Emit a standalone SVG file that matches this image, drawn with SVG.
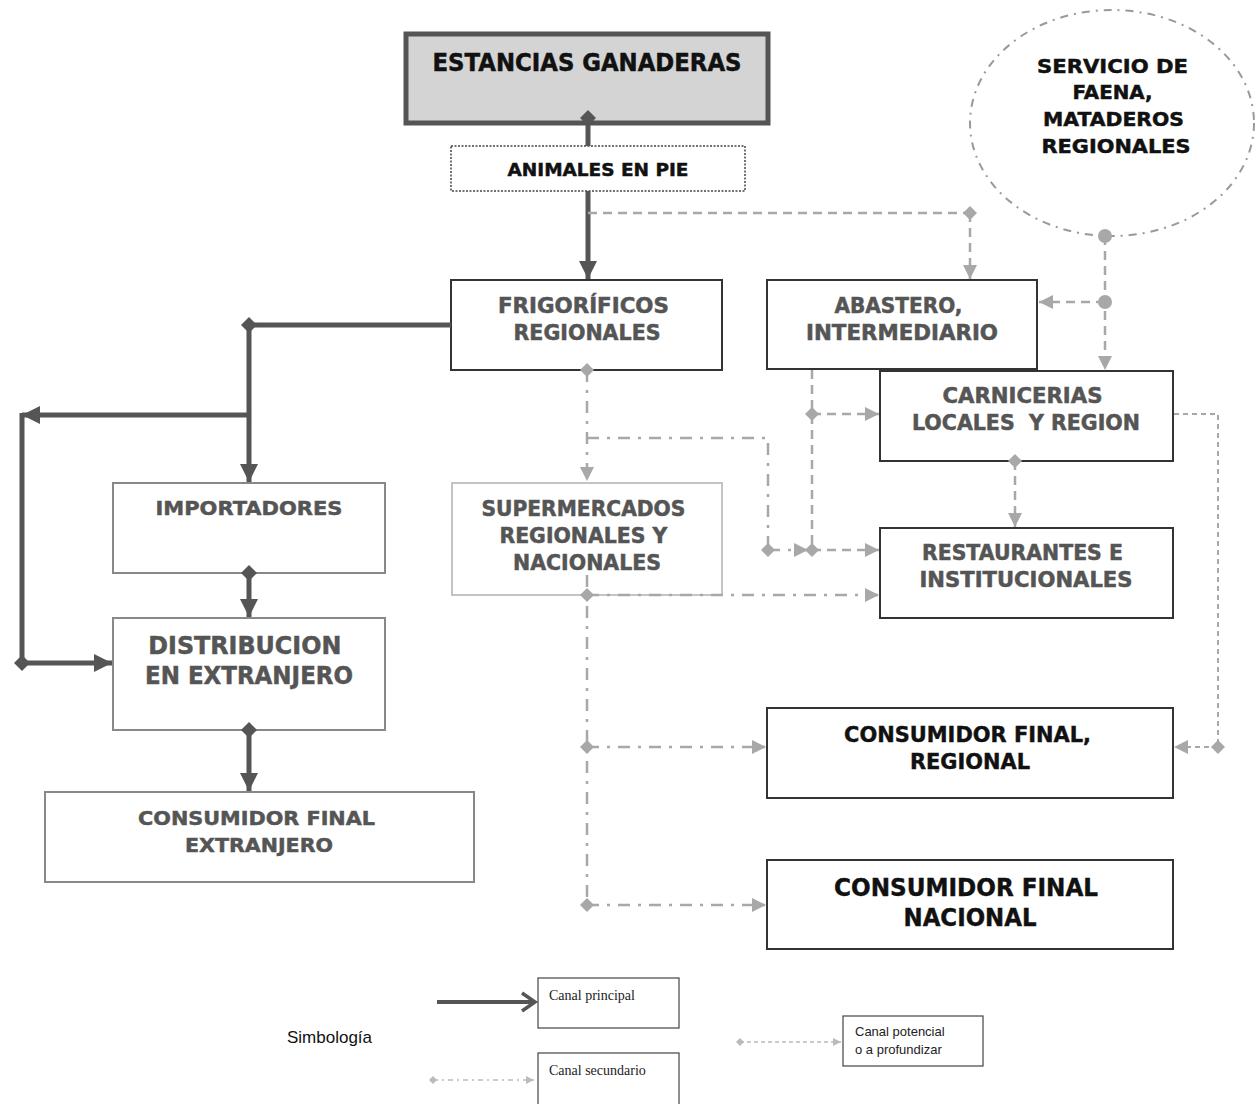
<svg xmlns="http://www.w3.org/2000/svg" width="1255" height="1104" viewBox="0 0 1255 1104">
<style>
  .t{font-family:"DejaVu Sans","Liberation Sans",sans-serif;font-weight:bold;text-anchor:middle;stroke-width:0.5}
  .tc{font-family:"DejaVu Sans Condensed","DejaVu Sans","Liberation Sans",sans-serif;font-weight:bold;text-anchor:middle;stroke-width:0.4}
  .blk{fill:#111;stroke:#111}
  .gry{fill:#555;stroke:#555}
  .box{fill:#fff;stroke:#333;stroke-width:2}
  .boxg{fill:#fff;stroke:#888;stroke-width:2}
  .boxl{fill:#fff;stroke:#c4c4c4;stroke-width:2}
  .thick{fill:none;stroke:#555;stroke-width:5}
  .dash{fill:none;stroke:#a8a8a8;stroke-width:2.5;stroke-dasharray:9 6}
  .fdash{fill:none;stroke:#a8a8a8;stroke-width:2;stroke-dasharray:5 4}
  .dd{fill:none;stroke:#a8a8a8;stroke-width:2.5;stroke-dasharray:12 8 3 8}
  .leg{font-family:"Liberation Serif",serif;font-size:14px;fill:#222}
  .legs{font-family:"Liberation Sans",sans-serif;font-size:13px;fill:#222}
</style>
<defs>
  <marker id="ahT" markerUnits="userSpaceOnUse" viewBox="0 0 18 18" refX="18" refY="9" markerWidth="18" markerHeight="18" orient="auto"><path d="M0,0 L18,9 L0,18 z" fill="#555"/></marker>
  <marker id="dmT" markerUnits="userSpaceOnUse" viewBox="0 0 16 16" refX="8" refY="8" markerWidth="16" markerHeight="16" orient="auto"><path d="M8,0 L16,8 L8,16 L0,8 z" fill="#555"/></marker>
  <marker id="ahG" markerUnits="userSpaceOnUse" viewBox="0 0 14 14" refX="14" refY="7" markerWidth="14" markerHeight="14" orient="auto"><path d="M0,0 L14,7 L0,14 z" fill="#a8a8a8"/></marker>
  <marker id="dmG" markerUnits="userSpaceOnUse" viewBox="0 0 14 14" refX="7" refY="7" markerWidth="14" markerHeight="14" orient="auto"><path d="M7,0 L14,7 L7,14 L0,7 z" fill="#a8a8a8"/></marker>
  <marker id="ciG" markerUnits="userSpaceOnUse" viewBox="0 0 16 16" refX="8" refY="8" markerWidth="16" markerHeight="16"><circle cx="8" cy="8" r="7" fill="#a8a8a8"/></marker>
  <marker id="ahS" markerUnits="userSpaceOnUse" viewBox="0 0 8 8" refX="8" refY="4" markerWidth="8" markerHeight="8" orient="auto"><path d="M0,0 L8,4 L0,8 z" fill="#bbb"/></marker>
  <marker id="dmS" markerUnits="userSpaceOnUse" viewBox="0 0 8 8" refX="4" refY="4" markerWidth="8" markerHeight="8" orient="auto"><path d="M4,0 L8,4 L4,8 L0,4 z" fill="#bbb"/></marker>
</defs>

<g id="estancias">
  <rect x="406" y="34" width="362" height="89" fill="#d4d4d4" stroke="#555" stroke-width="5"/>
  <text class="t blk" x="587" y="71" font-size="24" textLength="309" lengthAdjust="spacingAndGlyphs">ESTANCIAS GANADERAS</text>
</g>
<g id="animales">
  <rect x="451" y="146" width="294" height="45" fill="#fff" stroke="#444" stroke-width="1.5" stroke-dasharray="2 1.5"/>
  <text class="t blk" x="598" y="176" font-size="18.5" textLength="181" lengthAdjust="spacingAndGlyphs">ANIMALES EN PIE</text>
</g>
<g id="servicio">
  <ellipse cx="1112" cy="123" rx="142" ry="113" fill="#fff" stroke="#999" stroke-width="2" stroke-dasharray="8 6 2 6"/>
  <text class="t blk" font-size="20">
    <tspan x="1116" y="73" textLength="151" lengthAdjust="spacingAndGlyphs">SERVICIO DE</tspan>
    <tspan x="1116" y="99" textLength="80" lengthAdjust="spacingAndGlyphs">FAENA,</tspan>
    <tspan x="1117" y="126" textLength="141" lengthAdjust="spacingAndGlyphs">MATADEROS</tspan>
    <tspan x="1116" y="153" textLength="149" lengthAdjust="spacingAndGlyphs">REGIONALES</tspan>
  </text>
</g>
<g id="frigorificos">
  <rect class="box" x="451" y="280" width="271" height="90"/>
  <text class="t gry" font-size="20.5">
    <tspan x="587" y="313" textLength="171" lengthAdjust="spacingAndGlyphs">FRIGORÍFICOS</tspan>
    <tspan x="587" y="340" textLength="147" lengthAdjust="spacingAndGlyphs">REGIONALES</tspan>
  </text>
</g>
<g id="abastero">
  <rect class="box" x="767" y="280" width="270" height="89"/>
  <text class="t gry" font-size="20.5">
    <tspan x="902" y="313" textLength="128" lengthAdjust="spacingAndGlyphs">ABASTERO,</tspan>
    <tspan x="902" y="340" textLength="192" lengthAdjust="spacingAndGlyphs">INTERMEDIARIO</tspan>
  </text>
</g>
<g id="carnicerias">
  <rect class="box" x="880" y="371" width="293" height="90"/>
  <text class="t gry" font-size="20.5">
    <tspan x="1026" y="403" textLength="160" lengthAdjust="spacingAndGlyphs">CARNICERIAS</tspan>
    <tspan x="1026" y="430" textLength="228" lengthAdjust="spacingAndGlyphs" xml:space="preserve">LOCALES  Y REGION</tspan>
  </text>
</g>
<g id="restaurantes">
  <rect class="box" x="880" y="528" width="293" height="90"/>
  <text class="t gry" font-size="20.5">
    <tspan x="1026" y="560" textLength="201" lengthAdjust="spacingAndGlyphs">RESTAURANTES E</tspan>
    <tspan x="1026" y="587" textLength="213" lengthAdjust="spacingAndGlyphs">INSTITUCIONALES</tspan>
  </text>
</g>
<g id="supermercados">
  <rect class="boxl" x="452" y="483" width="270" height="112"/>
  <text class="t gry" font-size="20.5">
    <tspan x="587" y="516" textLength="204" lengthAdjust="spacingAndGlyphs">SUPERMERCADOS</tspan>
    <tspan x="587" y="543" textLength="168" lengthAdjust="spacingAndGlyphs">REGIONALES Y</tspan>
    <tspan x="587" y="570" textLength="148" lengthAdjust="spacingAndGlyphs">NACIONALES</tspan>
  </text>
</g>
<g id="importadores">
  <rect class="boxg" x="113" y="483" width="272" height="90"/>
  <text class="t gry" x="249" y="515" font-size="20" textLength="187" lengthAdjust="spacingAndGlyphs">IMPORTADORES</text>
</g>
<g id="distribucion">
  <rect class="boxg" x="113" y="618" width="272" height="112"/>
  <text class="t gry" font-size="24">
    <tspan x="249" y="654" textLength="193" lengthAdjust="spacingAndGlyphs">DISTRIBUCION</tspan>
    <tspan x="249" y="684" textLength="208" lengthAdjust="spacingAndGlyphs">EN EXTRANJERO</tspan>
  </text>
</g>
<g id="consumidor-extranjero">
  <rect class="boxg" x="45" y="792" width="429" height="90"/>
  <text class="t gry" font-size="20">
    <tspan x="260" y="825" textLength="237" lengthAdjust="spacingAndGlyphs">CONSUMIDOR FINAL</tspan>
    <tspan x="259" y="852" textLength="148" lengthAdjust="spacingAndGlyphs">EXTRANJERO</tspan>
  </text>
</g>
<g id="consumidor-regional">
  <rect class="box" x="767" y="708" width="406" height="90"/>
  <text class="tc blk" font-size="22">
    <tspan x="971" y="742" textLength="247" lengthAdjust="spacingAndGlyphs">CONSUMIDOR FINAL,</tspan>
    <tspan x="970" y="769" textLength="120" lengthAdjust="spacingAndGlyphs">REGIONAL</tspan>
  </text>
</g>
<g id="consumidor-nacional">
  <rect class="box" x="767" y="860" width="406" height="89"/>
  <text class="tc blk" font-size="25">
    <tspan x="970" y="896" textLength="264" lengthAdjust="spacingAndGlyphs">CONSUMIDOR FINAL</tspan>
    <tspan x="970" y="926" textLength="133" lengthAdjust="spacingAndGlyphs">NACIONAL</tspan>
  </text>
</g>

<g id="connectors">
  <!-- principal -->
  <path class="thick" d="M588,118 L588,146" marker-start="url(#dmT)"/>
  <path class="thick" d="M588,191 L588,279" marker-end="url(#ahT)"/>
  <path class="thick" d="M451,325 L249,325"/>
  <path class="thick" d="M249,325 L249,482" marker-start="url(#dmT)" marker-end="url(#ahT)"/>
  <path class="thick" d="M249,415 L22,415" marker-end="url(#ahT)"/>
  <path class="thick" d="M22,413 L22,663"/>
  <path class="thick" d="M22,663 L112,663" marker-start="url(#dmT)" marker-end="url(#ahT)"/>
  <path class="thick" d="M249,573 L249,617" marker-start="url(#dmT)" marker-end="url(#ahT)"/>
  <path class="thick" d="M249,730 L249,791" marker-start="url(#dmT)" marker-end="url(#ahT)"/>
  <!-- potencial -->
  <path class="dash" d="M588,213 L970,213"/>
  <path class="dash" d="M970,213 L970,279" marker-start="url(#dmG)" marker-end="url(#ahG)"/>
  <path class="dash" d="M1105,236 L1105,370" marker-start="url(#ciG)" marker-end="url(#ahG)"/>
  <path class="dash" d="M1105,302 L1039,302" marker-start="url(#ciG)" marker-end="url(#ahG)"/>
  <path class="dash" d="M812,370 L812,550"/>
  <path class="dash" d="M812,414 L879,414" marker-start="url(#dmG)" marker-end="url(#ahG)"/>
  <path class="dash" d="M812,550 L879,550" marker-start="url(#dmG)" marker-end="url(#ahG)"/>
  <path class="dash" d="M1015,461 L1015,527" marker-start="url(#dmG)" marker-end="url(#ahG)"/>
  <path class="fdash" d="M1174,414 L1218,414 L1218,747"/>
  <path class="fdash" d="M1218,747 L1174,747" marker-start="url(#dmG)" marker-end="url(#ahG)"/>
  <!-- secundario -->
  <path class="dd" d="M587,370 L587,481" marker-start="url(#dmG)" marker-end="url(#ahG)"/>
  <path class="dd" d="M587,438 L768,438 L768,550"/>
  <path class="dd" d="M768,550 L808,550" marker-start="url(#dmG)" marker-end="url(#ahG)"/>
  <path class="dd" d="M587,575 L587,905"/>
  <path class="dd" d="M587,595 L879,595" marker-start="url(#dmG)" marker-end="url(#ahG)"/>
  <path class="dd" d="M587,747 L766,747" marker-start="url(#dmG)" marker-end="url(#ahG)"/>
  <path class="dd" d="M587,905 L766,905" marker-start="url(#dmG)" marker-end="url(#ahG)"/>
</g>

<g id="legend">
  <text x="287" y="1043" font-family="Liberation Sans, sans-serif" font-size="17" fill="#111">Simbología</text>
  <path d="M437,1002 L533,1002" stroke="#555" stroke-width="4" fill="none"/>
  <path d="M522,993 L535,1002 L522,1011" stroke="#555" stroke-width="3.5" fill="none"/>
  <rect x="538" y="978" width="141" height="50" fill="#fff" stroke="#444" stroke-width="1.2"/>
  <text class="leg" x="549" y="1000">Canal principal</text>
  <path d="M433,1080 L534,1080" stroke="#bbb" stroke-width="1.5" stroke-dasharray="5 4 2 4" fill="none" marker-start="url(#dmS)" marker-end="url(#ahS)"/>
  <rect x="538" y="1053" width="141" height="55" fill="#fff" stroke="#444" stroke-width="1.2"/>
  <text class="leg" x="549" y="1075">Canal secundario</text>
  <path d="M740,1042 L841,1042" stroke="#bbb" stroke-width="1.5" stroke-dasharray="4 3" fill="none" marker-start="url(#dmS)" marker-end="url(#ahS)"/>
  <rect x="843" y="1016" width="140" height="50" fill="#fff" stroke="#444" stroke-width="1.2"/>
  <text class="legs" x="855" y="1036">Canal potencial</text>
  <text class="legs" x="855" y="1054">o a profundizar</text>
</g>
</svg>
